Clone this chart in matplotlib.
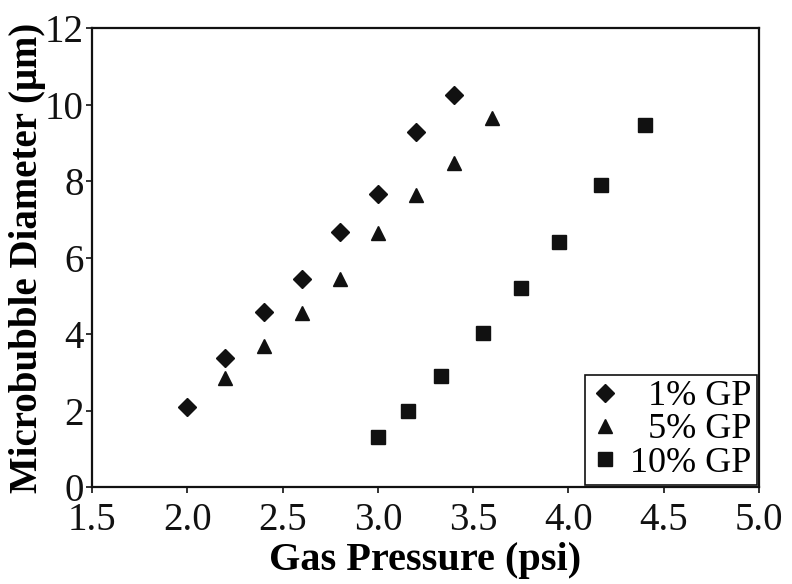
import matplotlib
matplotlib.use("Agg")
import matplotlib.pyplot as plt

# gas pressure (psi) and microbubble diameter (um) per gas-phase concentration
pressure_1 = [2.0, 2.2, 2.4, 2.6, 2.8, 3.0, 3.2, 3.4]
diameter_1 = [2.10, 3.38, 4.57, 5.44, 6.67, 7.65, 9.27, 10.25]

pressure_5 = [2.2, 2.4, 2.6, 2.8, 3.0, 3.2, 3.4, 3.6]
diameter_5 = [2.86, 3.69, 4.54, 5.43, 6.65, 7.63, 8.46, 9.64]

pressure_10 = [3.0, 3.16, 3.33, 3.55, 3.75, 3.95, 4.17, 4.40]
diameter_10 = [1.31, 1.99, 2.90, 4.02, 5.21, 6.41, 7.90, 9.46]

labels = ["\u20071% GP", "\u20075% GP", "10% GP"]
x_ticks = [1.5, 2.0, 2.5, 3.0, 3.5, 4.0, 4.5, 5.0]
y_ticks = [0, 2, 4, 6, 8, 10, 12]

plt.rcParams["font.family"] = ["Liberation Serif", "DejaVu Serif"]

fig = plt.figure(figsize=(7.92, 5.84), dpi=100)
ax = fig.add_axes([0.1162, 0.1661, 0.8421, 0.7859])

ax.plot(pressure_1, diameter_1, linestyle="none", marker="D", markersize=9,
        color="#111111", label=labels[0])
ax.plot(pressure_5, diameter_5, linestyle="none", marker="^", markersize=10.5,
        color="#111111", label=labels[1])
ax.plot(pressure_10, diameter_10, linestyle="none", marker="s", markersize=9.5,
        color="#111111", label=labels[2])

ax.set_xlim(1.5, 5.0)
ax.set_ylim(0, 12)
ax.set_xticks(x_ticks)
ax.set_xticklabels([f"{v:.1f}" for v in x_ticks])
ax.set_yticks(y_ticks)
ax.tick_params(direction="out", length=4, width=1.2, labelsize=28,
               colors="#111111")
ax.tick_params(axis="x", pad=7)
ax.tick_params(axis="y", pad=2)
for spine in ax.spines.values():
    spine.set_linewidth(1.6)
    spine.set_color("#111111")

ax.set_xlabel("Gas Pressure (psi)", fontsize=29, fontweight="bold", labelpad=2)
ax.set_ylabel("Microbubble Diameter (\u03bcm)", fontsize=28, fontweight="bold",
              labelpad=-1)

leg = ax.legend(loc="lower right", fontsize=26, frameon=True, fancybox=False,
                framealpha=1, edgecolor="#111111", borderpad=0.15,
                handlelength=0.8, handletextpad=0.3, labelspacing=0.0,
                borderaxespad=0.05)
leg.get_frame().set_linewidth(1.2)

fig.savefig("out.png", dpi=100)
